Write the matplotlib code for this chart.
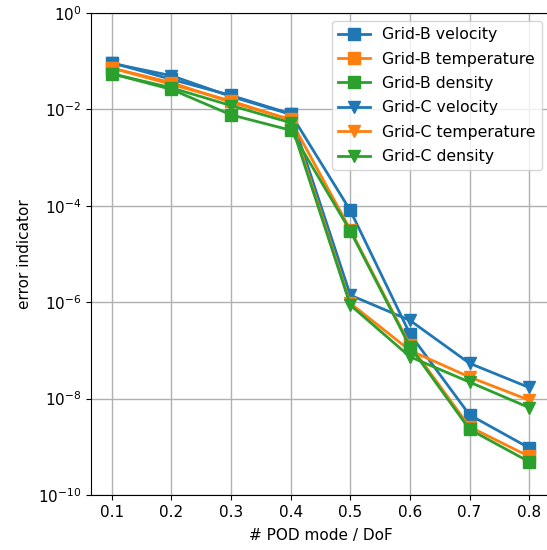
import matplotlib
matplotlib.use("Agg")
import matplotlib.pyplot as plt
from matplotlib.ticker import NullLocator

ratio = [0.1, 0.2, 0.3, 0.4, 0.5, 0.6, 0.7, 0.8]

b_vel = [0.093, 0.042, 0.0195, 0.0081, 8.0e-5, 2.2e-7, 4.6e-9, 9.5e-10]
b_tem = [0.072, 0.033, 0.0150, 0.0060, 3.2e-5, 1.3e-7, 2.6e-9, 6.3e-10]
b_den = [0.055, 0.026, 0.0077, 0.0037, 3.0e-5, 1.2e-7, 2.3e-9, 4.9e-10]
c_vel = [0.090, 0.050, 0.0185, 0.0079, 1.4e-6, 4.2e-7, 5.4e-8, 1.7e-8]
c_tem = [0.072, 0.036, 0.0140, 0.0062, 9.5e-7, 1.0e-7, 2.8e-8, 9.3e-9]
c_den = [0.055, 0.028, 0.0120, 0.0053, 8.7e-7, 7.4e-8, 2.2e-8, 6.5e-9]

y_ticks = [1e-10, 1e-8, 1e-6, 1e-4, 1e-2, 1e0]

BLUE = "#1f77b4"; ORANGE = "#ff7f0e"; GREEN = "#2ca02c"

fig = plt.figure(figsize=(5.47, 5.5), dpi=100)
ax = fig.add_axes([91/547, 55/550, 459/547, 482/550])

h = {}
h["bv"], = ax.semilogy(ratio, b_vel, "s-", color=BLUE, ms=8, lw=2, label="Grid-B velocity")
h["cv"], = ax.semilogy(ratio, c_vel, "v-", color=BLUE, ms=8, lw=2, label="Grid-C velocity")
h["bt"], = ax.semilogy(ratio, b_tem, "s-", color=ORANGE, ms=8, lw=2, label="Grid-B temperature")
h["ct"], = ax.semilogy(ratio, c_tem, "v-", color=ORANGE, ms=8, lw=2, label="Grid-C temperature")
h["bd"], = ax.semilogy(ratio, b_den, "s-", color=GREEN, ms=8, lw=2, label="Grid-B density")
h["cd"], = ax.semilogy(ratio, c_den, "v-", color=GREEN, ms=8, lw=2, label="Grid-C density")

ax.set_ylim(1e-10, 1)
ax.set_yticks(y_ticks)
ax.yaxis.set_minor_locator(NullLocator())
ax.set_xticks(ratio)
ax.grid(True, color="#b0b0b0", lw=1.0)
ax.set_xlabel("# POD mode / DoF", fontsize=11, labelpad=6)
ax.set_ylabel("error indicator", fontsize=11)
ax.tick_params(labelsize=11)

order = ["bv", "bt", "bd", "cv", "ct", "cd"]
ax.legend([h[k] for k in order], [h[k].get_label() for k in order],
          loc="upper right", fontsize=11.3, labelspacing=0.6)

fig.savefig("out.png", dpi=100)
